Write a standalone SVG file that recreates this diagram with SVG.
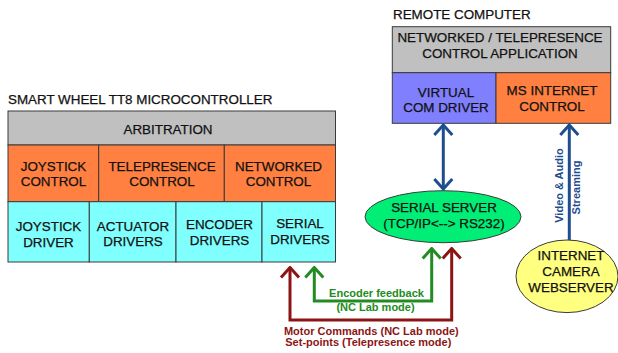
<svg xmlns="http://www.w3.org/2000/svg" width="618" height="353" viewBox="0 0 618 353">
<defs>
<style>
.t{font-family:"Liberation Sans",Arial,sans-serif;font-size:13.4px;fill:#111;stroke:#111;stroke-width:0.25;text-anchor:middle}
.title{font-family:"Liberation Sans",Arial,sans-serif;font-size:13.4px;fill:#111;stroke:#111;stroke-width:0.25}
.b{stroke:#3a3a3a;stroke-width:1}
.gray{fill:#C0C0C0}
.org{fill:#FF8040}
.cyan{fill:#80FFFF}
.vio{fill:#8080FF}
.lbl{font-family:"Liberation Sans",Arial,sans-serif;font-size:11px;font-weight:bold;text-anchor:middle}
.blue{stroke:#1F4E8F;stroke-width:3;fill:none}
.grn{stroke:#228B22;stroke-width:3;fill:none}
.red{stroke:#8B1515;stroke-width:3;fill:none}
</style>
<marker id="mb" viewBox="-14 -12 16 24" refX="0" refY="0" markerWidth="16" markerHeight="24" markerUnits="userSpaceOnUse" orient="auto-start-reverse"><path d="M-10,-9 L0,0 L-10,9" fill="none" stroke="#1F4E8F" stroke-width="3"/></marker>
<marker id="mg" viewBox="-14 -12 16 24" refX="0" refY="0" markerWidth="16" markerHeight="24" markerUnits="userSpaceOnUse" orient="auto-start-reverse"><path d="M-10,-9 L0,0 L-10,9" fill="none" stroke="#228B22" stroke-width="3"/></marker>
<marker id="mr" viewBox="-14 -12 16 24" refX="0" refY="0" markerWidth="16" markerHeight="24" markerUnits="userSpaceOnUse" orient="auto-start-reverse"><path d="M-10,-9 L0,0 L-10,9" fill="none" stroke="#8B1515" stroke-width="3"/></marker>
</defs>
<rect width="618" height="353" fill="#fff"/>

<text class="title" x="8" y="104">SMART WHEEL TT8 MICROCONTROLLER</text>
<g id="arbitration"><rect class="b gray" x="8" y="111" width="327.5" height="34"/><text class="t" x="168" y="134">ARBITRATION</text></g>
<g id="joystick-control"><rect class="b org" x="8" y="145" width="90.7" height="56.7"/><text class="t" x="53.5" y="170.5">JOYSTICK</text><text class="t" x="53.5" y="186">CONTROL</text></g>
<g id="telepresence-control"><rect class="b org" x="98.7" y="145" width="125.6" height="56.7"/><text class="t" x="162" y="170.5">TELEPRESENCE</text><text class="t" x="162" y="186">CONTROL</text></g>
<g id="networked-control"><rect class="b org" x="224.3" y="145" width="111.2" height="56.7"/><text class="t" x="278.5" y="170.5">NETWORKED</text><text class="t" x="278.5" y="186">CONTROL</text></g>
<g id="joystick-driver"><rect class="b cyan" x="8" y="201.7" width="81.3" height="60.3"/><text class="t" x="48.5" y="230.5">JOYSTICK</text><text class="t" x="48.5" y="246.5">DRIVER</text></g>
<g id="actuator-drivers"><rect class="b cyan" x="89.3" y="201.7" width="86.7" height="60.3"/><text class="t" x="133" y="231">ACTUATOR</text><text class="t" x="133" y="246">DRIVERS</text></g>
<g id="encoder-drivers"><rect class="b cyan" x="176" y="201.7" width="86" height="60.3"/><text class="t" x="219.5" y="228.5">ENCODER</text><text class="t" x="219.5" y="244.5">DRIVERS</text></g>
<g id="serial-drivers"><rect class="b cyan" x="262" y="201.7" width="73.5" height="60.3"/><text class="t" x="300" y="228">SERIAL</text><text class="t" x="300" y="244">DRIVERS</text></g>

<text class="title" x="393" y="19">REMOTE COMPUTER</text>
<g id="control-application"><rect class="b gray" x="392.3" y="26.7" width="218.4" height="46"/><text class="t" x="500" y="41.7">NETWORKED / TELEPRESENCE</text><text class="t" x="500" y="57.7">CONTROL APPLICATION</text></g>
<g id="virtual-com-driver"><rect class="b vio" x="392.3" y="72.7" width="103.7" height="50.6"/><text class="t" x="446" y="96.7">VIRTUAL</text><text class="t" x="446" y="112.3">COM DRIVER</text></g>
<g id="ms-internet-control"><rect class="b org" x="496" y="72.7" width="114.7" height="50.6"/><text class="t" x="552" y="94.5">MS INTERNET</text><text class="t" x="552" y="111">CONTROL</text></g>

<g id="serial-server"><ellipse cx="443" cy="216.7" rx="78" ry="26" fill="#00EE76" stroke="#3a3a3a" stroke-width="1"/><text class="t" x="444" y="212.3">SERIAL SERVER</text><text class="t" x="444" y="227.5">(TCP/IP&lt;--&gt; RS232)</text></g>
<g id="camera-webserver"><ellipse cx="567" cy="276.3" rx="51" ry="36.3" fill="#FFFF80" stroke="#3a3a3a" stroke-width="1"/><text class="t" x="571" y="260">INTERNET</text><text class="t" x="571" y="276">CAMERA</text><text class="t" x="571" y="291.7">WEBSERVER</text></g>

<g id="connectors">
<line class="blue" x1="443.3" y1="125" x2="443.3" y2="189" marker-start="url(#mb)" marker-end="url(#mb)"/>
<line class="blue" x1="569.3" y1="240" x2="569.3" y2="125" marker-end="url(#mb)"/>
<polyline class="grn" points="314.3,267.5 314.3,301 431.7,301 431.7,248.5" marker-start="url(#mg)" marker-end="url(#mg)"/>
<polyline class="red" points="290,267.5 290,320 451.7,320 451.7,248.5" marker-start="url(#mr)" marker-end="url(#mr)"/>
<text class="lbl" fill="#1F4E8F" transform="translate(562.5,185.5) rotate(-90)" x="0" y="0">Video &amp; Audio</text>
<text class="lbl" fill="#1F4E8F" transform="translate(580,187.5) rotate(-90)" x="0" y="0">Streaming</text>
<text class="lbl" fill="#228B22" x="376.5" y="296.7">Encoder feedback</text>
<text class="lbl" fill="#228B22" x="375.5" y="311">(NC Lab mode)</text>
<text class="lbl" fill="#8B1515" x="371.3" y="335">Motor Commands (NC Lab mode)</text>
<text class="lbl" fill="#8B1515" x="368.3" y="345.5">Set-points (Telepresence mode)</text>
</g>
</svg>
